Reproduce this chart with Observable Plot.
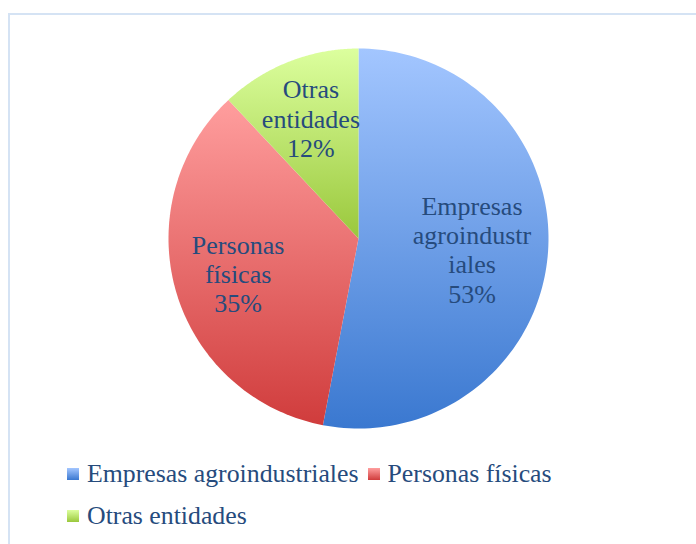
<!DOCTYPE html>
<html>
<head>
<meta charset="utf-8">
<script src="https://cdn.jsdelivr.net/npm/d3@7"></script>
<script src="https://cdn.jsdelivr.net/npm/@observablehq/plot@0.6"></script>
<style>
  html, body { margin: 0; padding: 0; background: #fff; width: 696px; height: 544px; overflow: hidden; }
  #frame { position: absolute; left: 8px; top: 13px; width: 760px; height: 600px; border: 2px solid #d5e3f4; box-sizing: border-box; }
  #chart { position: absolute; left: 0; top: 0; }
  #legend { position: absolute; left: 67px; top: 453px; width: 580px; font-family: "Liberation Serif", serif; font-size: 25.8px; color: #264b7d; line-height: 42px; }
  .item { display: inline-block; margin-right: 9px; white-space: nowrap; }
  .sw { display: inline-block; width: 12px; height: 12px; margin-right: 8px; vertical-align: 2px; }
</style>
</head>
<body>
<div id="frame"></div>
<div id="chart"></div>
<div id="legend"></div>
<script>
const categories = ["Empresas agroindustriales", "Personas físicas", "Otras entidades"];
const values = [53, 35, 12];
const labelTexts = ["Empresas\nagroindustr\niales\n53%", "Personas\nfísicas\n35%", "Otras\nentidades\n12%"];
const gradTop = ["#a3c6ff", "#ff9e9e", "#dcff9e"];
const gradBottom = ["#3a78d0", "#d03c3c", "#9ac83c"];
const gradIds = ["gBlue", "gRed", "gGreen"];

const pie = d3.pie().sort(null).value(d => d.value)(categories.map((c, i) => ({name: c, value: values[i], i})));

// polygon points for each slice (angles from top, clockwise)
const pts = [];
pie.forEach(p => {
  const n = 120;
  pts.push({k: p.data.i, x: 0, y: 0});
  for (let j = 0; j <= n; j++) {
    const a = p.startAngle + (p.endAngle - p.startAngle) * j / n;
    pts.push({k: p.data.i, x: Math.sin(a), y: Math.cos(a)});
  }
  pts.push({k: p.data.i, x: 0, y: 0});
});
const labelR = [0.6, 0.66, 0.68];
const labels = pie.map(p => {
  const a = (p.startAngle + p.endAngle) / 2;
  const r = labelR[p.data.i];
  return {x: r * Math.sin(a), y: r * Math.cos(a), t: labelTexts[p.data.i]};
});

const W = 696, H = 440;
const plot = Plot.plot({
  width: W, height: H,
  marginLeft: 168, marginRight: 148, marginTop: 48, marginBottom: 12,
  x: {domain: [-1, 1], axis: null},
  y: {domain: [-1, 1], axis: null},
  style: {background: "transparent"},
  marks: [
    ...[0, 1, 2].map(i => Plot.line(pts.filter(d => d.k === i), {x: "x", y: "y", fill: `url(#${gradIds[i]})`, stroke: "none"})),
    Plot.text(labels, {x: "x", y: "y", text: "t", fontSize: 26, lineHeight: 1.13, fill: "#264b7d", fontFamily: "Liberation Serif, serif"})
  ]
});
const svg = d3.select(plot);
const defs = svg.insert("defs", ":first-child");
gradIds.forEach((id, i) => {
  const g = defs.append("linearGradient").attr("id", id).attr("x1", 0).attr("y1", 0).attr("x2", 0).attr("y2", 1);
  g.append("stop").attr("offset", "0%").attr("stop-color", gradTop[i]);
  g.append("stop").attr("offset", "100%").attr("stop-color", gradBottom[i]);
});
document.getElementById("chart").appendChild(plot);

const legend = document.getElementById("legend");
categories.forEach((c, i) => {
  const item = document.createElement("span");
  item.className = "item";
  const sw = document.createElement("span");
  sw.className = "sw";
  sw.style.background = `linear-gradient(${gradTop[i]}, ${gradBottom[i]})`;
  item.appendChild(sw);
  item.appendChild(document.createTextNode(c));
  legend.appendChild(item);
});
</script>
</body>
</html>
